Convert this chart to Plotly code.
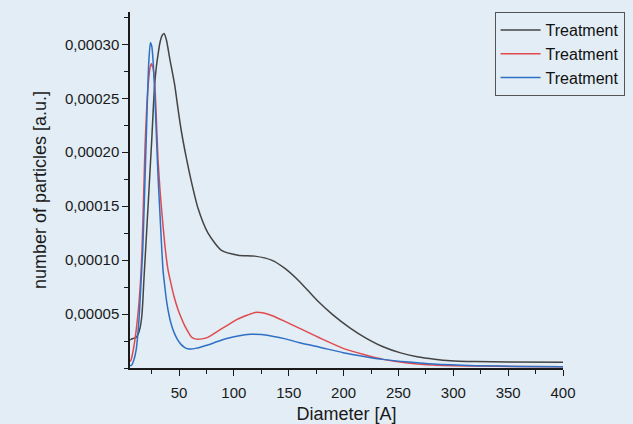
import plotly.graph_objects as go

# Particle size distributions (diameter in Å, number of particles in a.u.)
black_d = [5.3, 6.2, 8.5, 10.8, 12.5, 13.9, 15.0, 16.0, 17.0, 17.8,
           19.0, 20.5, 22.0, 23.5, 25.1, 26.5, 27.8, 29.3, 30.8, 32.5,
           34.5, 36.3, 38.5, 41.5, 46.1, 49.1, 52.2, 56.8, 61.3, 67.3,
           76.4, 88.7, 103.8, 119.1, 134.3, 146.5, 160, 175.5, 190, 206,
           220, 236, 252, 267, 283, 297.6, 320, 350, 400]
black_n = [2.6e-5, 2.66e-5, 2.75e-5, 2.84e-5, 3.1e-5, 3.5e-5, 4.0e-5, 4.75e-5, 6.2e-5, 7.84e-5,
           10.0e-5, 12.7e-5, 15.4e-5, 18.2e-5, 21.1e-5, 24.0e-5, 26.3e-5, 27.9e-5, 29.0e-5, 30.1e-5,
           30.8e-5, 31.0e-5, 30.4e-5, 28.7e-5, 26.2e-5, 24.0e-5, 21.9e-5, 19.4e-5, 17.25e-5, 14.8e-5,
           12.5e-5, 10.9e-5, 10.46e-5, 10.37e-5, 10.0e-5, 9.23e-5, 8.0e-5, 6.3e-5, 4.95e-5, 3.7e-5,
           2.8e-5, 1.97e-5, 1.4e-5, 1.05e-5, 0.82e-5, 0.68e-5, 0.6e-5, 0.55e-5, 0.53e-5]

red_d = [5.3, 6.2, 9.3, 12.3, 14.8, 16.2, 17.6, 19.0, 20.5, 22.0,
         23.5, 24.8, 26.3, 27.8, 29.3, 30.8, 33.0, 35.4, 37.5, 40.0,
         42.7, 45.5, 48.8, 51.8, 54.9, 58, 61.0, 64, 67.1, 71,
         76.2, 85, 94.4, 103, 112.6, 119.3, 126, 135, 147, 160,
         180, 199.6, 220, 236, 260, 282, 320, 360, 400]
red_n = [0.6e-5, 0.74e-5, 2.29e-5, 4.75e-5, 7.9e-5, 10.9e-5, 15.5e-5, 20.5e-5, 24.0e-5, 26.4e-5,
         27.8e-5, 28.2e-5, 27.8e-5, 26.5e-5, 23.2e-5, 19.4e-5, 16.0e-5, 13.2e-5, 11.0e-5, 9.07e-5,
         7.8e-5, 6.6e-5, 5.5e-5, 4.7e-5, 3.98e-5, 3.4e-5, 2.9e-5, 2.72e-5, 2.66e-5, 2.7e-5,
         2.84e-5, 3.4e-5, 3.98e-5, 4.5e-5, 4.91e-5, 5.15e-5, 5.12e-5, 4.85e-5, 4.3e-5, 3.67e-5,
         2.7e-5, 1.82e-5, 1.2e-5, 0.8e-5, 0.45e-5, 0.28e-5, 0.18e-5, 0.14e-5, 0.12e-5]

blue_d = [5.3, 6.85, 9.0, 10.8, 13.5, 15.3, 16.9, 18.4, 19.9, 21.2,
          22.5, 23.9, 25.2, 26.5, 27.8, 29.3, 30.8, 32.4, 33.9, 35.4,
          36.7, 38.5, 41.2, 43.5, 45.8, 48.5, 51.8, 55, 58, 61.0,
          65, 70.1, 76.2, 85, 94.4, 105, 115, 125, 135, 147,
          160, 180, 199.6, 220, 236, 260, 281.8, 320, 360, 400]
blue_n = [0.2e-5, 0.28e-5, 0.8e-5, 1.6e-5, 4.5e-5, 7.84e-5, 10.9e-5, 15.5e-5, 20.6e-5, 25.0e-5,
          28.5e-5, 30.16e-5, 29.8e-5, 28.2e-5, 25.6e-5, 21.7e-5, 17.9e-5, 14.7e-5, 11.7e-5, 9.07e-5,
          7.84e-5, 6.3e-5, 4.75e-5, 3.85e-5, 3.21e-5, 2.65e-5, 2.19e-5, 1.92e-5, 1.78e-5, 1.76e-5,
          1.82e-5, 1.95e-5, 2.13e-5, 2.45e-5, 2.75e-5, 3.0e-5, 3.12e-5, 3.1e-5, 2.95e-5, 2.7e-5,
          2.34e-5, 1.88e-5, 1.42e-5, 1.05e-5, 0.8e-5, 0.55e-5, 0.37e-5, 0.22e-5, 0.15e-5, 0.12e-5]

series = [
    ("Treatment", black_d, black_n, "#444444"),
    ("Treatment", red_d, red_n, "#e04a4e"),
    ("Treatment", blue_d, blue_n, "#2f6fc4"),
]

x_ticks = [50, 100, 150, 200, 250, 300, 350, 400]
y_ticks = [0.00005, 0.00010, 0.00015, 0.00020, 0.00025, 0.00030]

bg = "#e2edf5"
font = "Liberation Sans, Arial, sans-serif"

fig = go.Figure()
for name, d, n, color in series:
    fig.add_trace(go.Scatter(
        x=d, y=n, name=name, mode="lines",
        line=dict(color=color, width=1.5, shape="spline", smoothing=0.6),
    ))

fig.update_layout(
    width=633, height=424,
    margin=dict(l=130, r=70, t=12, b=56, autoexpand=False),
    paper_bgcolor=bg, plot_bgcolor=bg,
    separators=",.",
    font=dict(family=font, size=15, color="#1a1a1a"),
    showlegend=True,
    legend=dict(
        x=0.842, y=1.0, xanchor="left", yanchor="top",
        bgcolor="rgba(0,0,0,0)", bordercolor="#555555", borderwidth=1,
        font=dict(family=font, size=16, color="#111111"),
        tracegroupgap=0, itemwidth=40,
    ),
    xaxis=dict(
        range=[5.3, 400], showgrid=False, zeroline=False,
        showline=True, linecolor="#1a1a1a", linewidth=1.5,
        ticks="outside", ticklen=6, tickwidth=1.2, tickcolor="#1a1a1a",
        tickmode="array", tickvals=x_ticks, ticktext=[str(v) for v in x_ticks],
        ticklabelstandoff=4,
        minor=dict(tickmode="linear", tick0=0, dtick=25, ticks="outside",
                   ticklen=4, tickwidth=1, tickcolor="#1a1a1a"),
        title=dict(text="Diameter [A]", font=dict(family=font, size=18), standoff=10),
    ),
    yaxis=dict(
        range=[0, 0.00033], showgrid=False, zeroline=False,
        showline=True, linecolor="#1a1a1a", linewidth=1.5,
        ticks="outside", ticklen=6, tickwidth=1.2, tickcolor="#1a1a1a",
        tickmode="array", tickvals=y_ticks, tickformat=".5f",
        minor=dict(tickmode="linear", tick0=0, dtick=0.000025, ticks="outside",
                   ticklen=4, tickwidth=1, tickcolor="#1a1a1a"),
        title=dict(text="number of particles [a.u.]", font=dict(family=font, size=18), standoff=14),
    ),
)

fig.write_html("out.html")
